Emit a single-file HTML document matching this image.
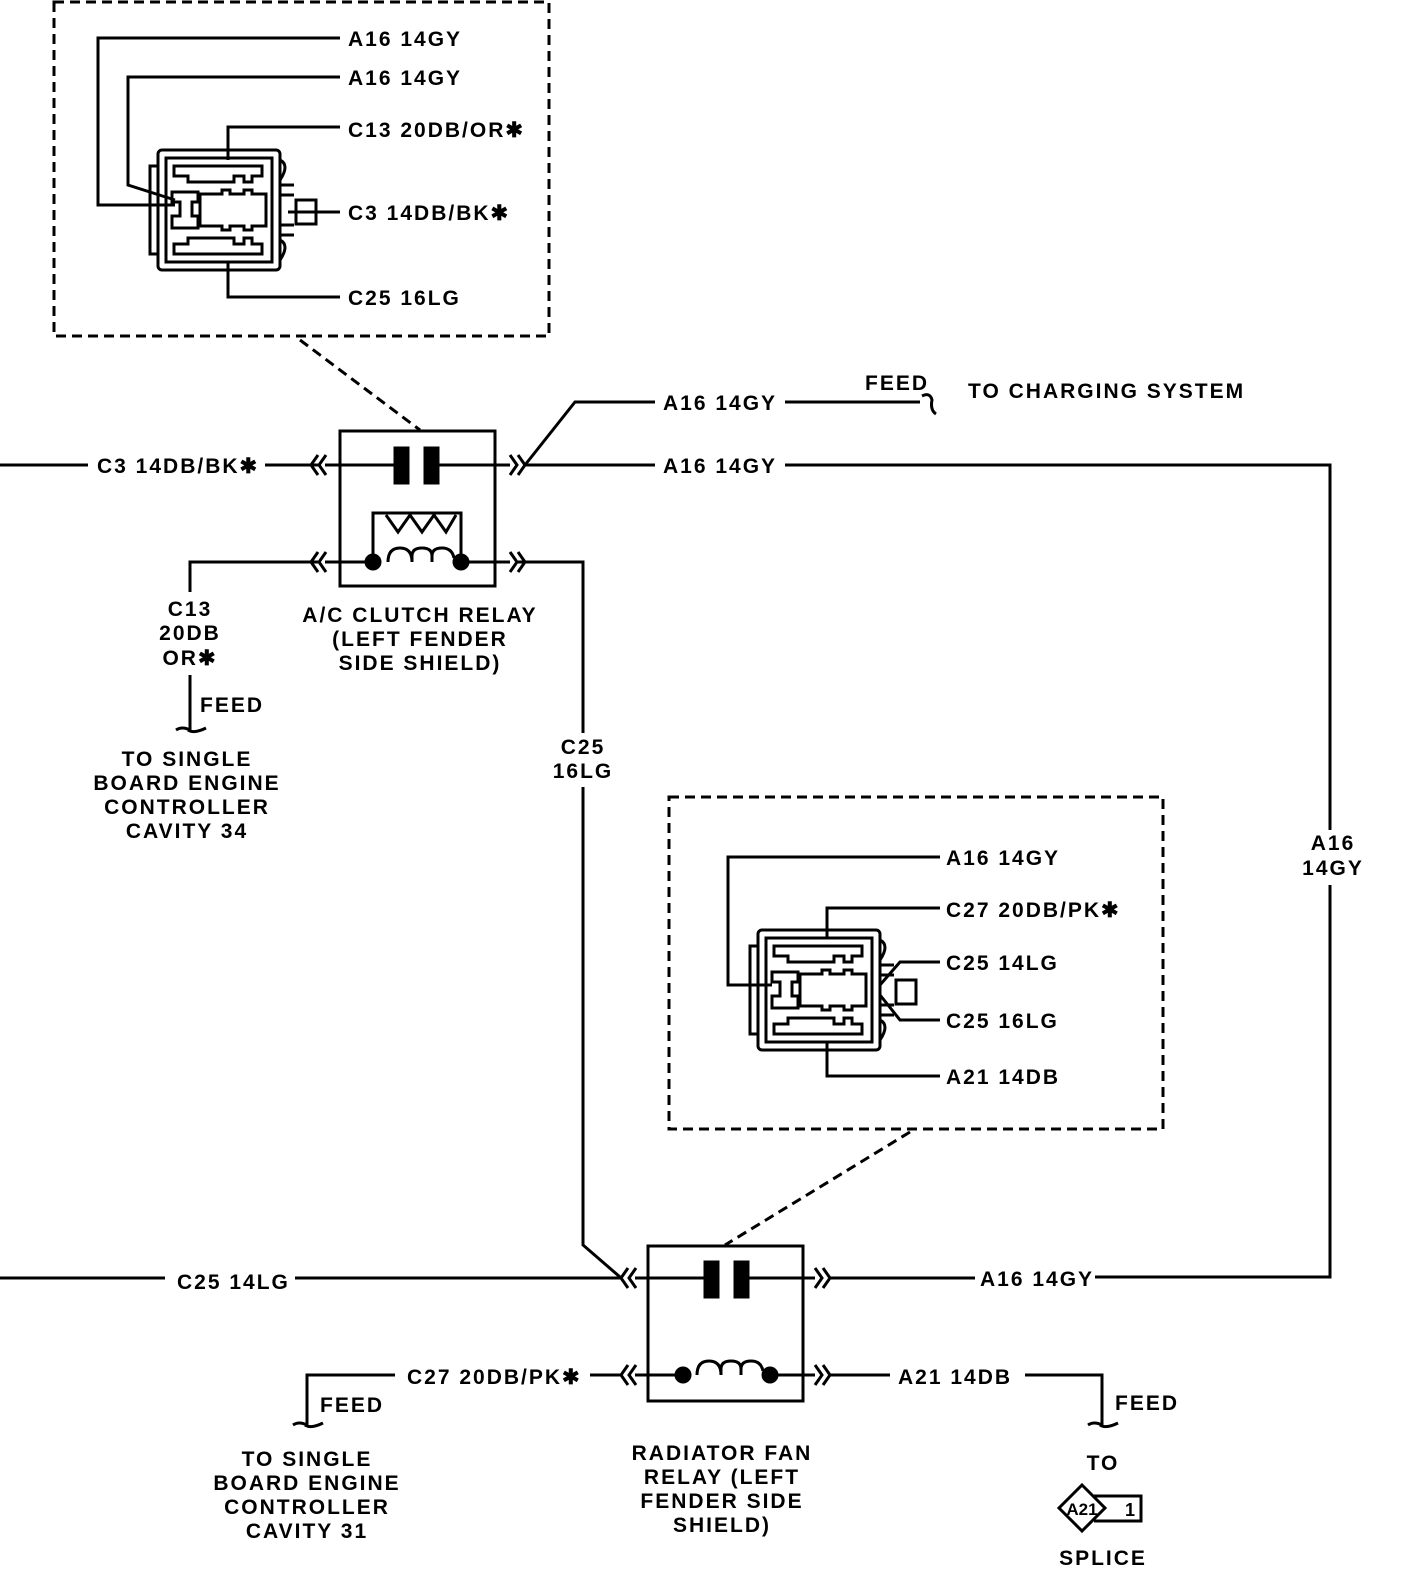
<!DOCTYPE html>
<html><head><style>
html,body{margin:0;padding:0;background:#fff;}
svg{display:block}
text{font-family:"Liberation Sans",sans-serif;font-weight:bold;font-size:21px;letter-spacing:2px;fill:#000}
</style></head><body>
<svg width="1408" height="1592" viewBox="0 0 1408 1592" xmlns="http://www.w3.org/2000/svg">
<defs>
<g id="conn" fill="none" stroke="#000" stroke-width="3">
  <rect x="0" y="0" width="122" height="120" rx="4"/>
  <rect x="8" y="8" width="106" height="104"/>
  <path d="M0 16 H-8 V104 H0"/>
  <path d="M122 10 q10 5 0 20 M122 90 q10 5 0 20"/>
  <path d="M122 35 h14 M122 45 h14 M122 75 h14 M122 85 h14"/>
  <rect x="138" y="50" width="20" height="24"/>
  <!-- top row -->
  <path d="M16 16 H104 V26 H94 V32 H86 V26 H76 V32 H30 V26 H16 Z"/>
  <!-- middle row -->
  <path d="M14 42 H40 V52 H34 V66 H40 V78 H14 V66 H22 V52 H14 Z"/>
  <path d="M42 44 H64 V40 H72 V44 H86 V40 H94 V44 H108 V76 H94 V80 H86 V76 H72 V80 H64 V76 H42 Z"/>
  <!-- bottom row -->
  <path d="M16 104 H104 V94 H94 V88 H86 V94 H76 V88 H30 V94 H16 Z"/>
</g>
</defs>
<g stroke="#000" stroke-width="3" fill="none">
  <!-- top dashed box -->
  <rect x="54" y="2" width="495" height="334" stroke-dasharray="10,6"/>
  <use href="#conn" x="158" y="150"/>
  <path d="M340 38 H98 V205 H175"/>
  <path d="M340 77 H128 V185 L175 200"/>
  <path d="M340 127 H228 V160"/>
  <path d="M288 212 H340"/>
  <path d="M340 297 H228 V262"/>
  <path d="M300 340 L420 430" stroke-dasharray="10,6"/>

  <!-- relay 1 -->
  <rect x="340" y="431" width="155" height="155"/>
  <rect x="395" y="448" width="13" height="35" fill="#000"/>
  <rect x="425" y="448" width="13" height="35" fill="#000"/>
  <path d="M325 465 H395 M438 465 H510"/>
  <path d="M325 562 H373 M461 562 H510"/>
  <path d="M388 562 q0 -14 12 -14 q12 0 12 14 M412 562 v-6 q0 -8 10 -8 q10 0 10 8 v6 M432 556 q0 -8 10 -8 q10 0 12 10"/>
  <path d="M373 562 V513 H461 V562 M386 515 L398 532 L410 515 L422 532 L434 515 L446 532 L456 515"/>
  <circle cx="373" cy="562" r="7" fill="#000"/>
  <circle cx="461" cy="562" r="7" fill="#000"/>
  <path d="M318 455 l-7 10 l7 10 M326 455 l-7 10 l7 10 M318 552 l-7 10 l7 10 M326 552 l-7 10 l7 10"/>
  <path d="M510 455 l7 10 l-7 10 M518 455 l7 10 l-7 10 M510 552 l7 10 l-7 10 M518 552 l7 10 l-7 10"/>

  <path d="M0 465 H88 M265 465 H318"/>
  <path d="M525 465 L575 402 H655 M785 402 H920"/>
  <path d="M922 396 q8 -4 10 4 q-2 10 4 14"/>
  <path d="M525 465 H655 M785 465 H1330 V830 M1330 885 V1277 H1095"/>
  <path d="M318 562 H190 V592 M190 675 V730 q-8 -4 -14 0 M188 730 q6 4 18 -2"/>
  <path d="M518 562 H583 V733 M583 787 V1245 L620 1277"/>

  <!-- second dashed box -->
  <rect x="669" y="797" width="494" height="332" stroke-dasharray="10,6"/>
  <use href="#conn" x="758" y="930"/>
  <path d="M940 857 H728 V985 H772"/>
  <path d="M940 908 H827 V938"/>
  <path d="M940 962 H900 L880 985"/>
  <path d="M940 1020 H900 L880 995"/>
  <path d="M940 1076 H827 V1042"/>
  <path d="M910 1132 L725 1245" stroke-dasharray="10,6"/>

  <!-- relay 2 -->
  <rect x="648" y="1246" width="155" height="155"/>
  <rect x="705" y="1262" width="13" height="35" fill="#000"/>
  <rect x="735" y="1262" width="13" height="35" fill="#000"/>
  <path d="M635 1278 H705 M748 1278 H815"/>
  <path d="M635 1375 H683 M770 1375 H815"/>
  <path d="M697 1375 q0 -14 12 -14 q12 0 12 14 M721 1375 v-6 q0 -8 10 -8 q10 0 10 8 v6 M741 1369 q0 -8 10 -8 q10 0 12 10"/>
  <circle cx="683" cy="1375" r="7" fill="#000"/>
  <circle cx="770" cy="1375" r="7" fill="#000"/>
  <path d="M628 1268 l-7 10 l7 10 M636 1268 l-7 10 l7 10 M628 1365 l-7 10 l7 10 M636 1365 l-7 10 l7 10"/>
  <path d="M815 1268 l7 10 l-7 10 M823 1268 l7 10 l-7 10 M815 1365 l7 10 l-7 10 M823 1365 l7 10 l-7 10"/>

  <path d="M0 1278 H165 M295 1278 H620"/>
  <path d="M830 1278 H975"/>
  <path d="M590 1375 H620 M395 1375 H307 V1425 q-8 -4 -14 0 M305 1425 q6 4 18 -2"/>
  <path d="M830 1375 H890 M1025 1375 H1102 V1425 q-8 -4 -14 0 M1100 1425 q6 4 18 -2"/>
  <path d="M1082 1485 L1105 1508 L1082 1531 L1059 1508 Z"/>
  <path d="M1094 1496 H1141 V1521 H1094"/>
</g>

<g>
<text x="348" y="46">A16 14GY</text>
<text x="348" y="85">A16 14GY</text>
<text x="348" y="137">C13 20DB/OR✱</text>
<text x="348" y="220">C3 14DB/BK✱</text>
<text x="348" y="305">C25 16LG</text>

<text x="97" y="473">C3 14DB/BK✱</text>
<text x="663" y="410">A16 14GY</text>
<text x="865" y="390">FEED</text>
<text x="968" y="398">TO CHARGING SYSTEM</text>
<text x="663" y="473">A16 14GY</text>
<text x="1333" y="850" text-anchor="middle">A16</text>
<text x="1333" y="875" text-anchor="middle">14GY</text>

<text x="190" y="616" text-anchor="middle">C13</text>
<text x="190" y="640" text-anchor="middle">20DB</text>
<text x="190" y="665" text-anchor="middle">OR✱</text>
<text x="200" y="712">FEED</text>
<text x="187" y="766" text-anchor="middle">TO SINGLE</text>
<text x="187" y="790" text-anchor="middle">BOARD ENGINE</text>
<text x="187" y="814" text-anchor="middle">CONTROLLER</text>
<text x="187" y="838" text-anchor="middle">CAVITY 34</text>

<text x="420" y="622" text-anchor="middle">A/C CLUTCH RELAY</text>
<text x="420" y="646" text-anchor="middle">(LEFT FENDER</text>
<text x="420" y="670" text-anchor="middle">SIDE SHIELD)</text>
<text x="583" y="754" text-anchor="middle">C25</text>
<text x="583" y="778" text-anchor="middle">16LG</text>

<text x="946" y="865">A16 14GY</text>
<text x="946" y="917">C27 20DB/PK✱</text>
<text x="946" y="970">C25 14LG</text>
<text x="946" y="1028">C25 16LG</text>
<text x="946" y="1084">A21 14DB</text>

<text x="177" y="1289">C25 14LG</text>
<text x="980" y="1286">A16 14GY</text>
<text x="407" y="1384">C27 20DB/PK✱</text>
<text x="898" y="1384">A21 14DB</text>
<text x="320" y="1412">FEED</text>
<text x="1115" y="1410">FEED</text>
<text x="307" y="1466" text-anchor="middle">TO SINGLE</text>
<text x="307" y="1490" text-anchor="middle">BOARD ENGINE</text>
<text x="307" y="1514" text-anchor="middle">CONTROLLER</text>
<text x="307" y="1538" text-anchor="middle">CAVITY 31</text>
<text x="722" y="1460" text-anchor="middle">RADIATOR FAN</text>
<text x="722" y="1484" text-anchor="middle">RELAY (LEFT</text>
<text x="722" y="1508" text-anchor="middle">FENDER SIDE</text>
<text x="722" y="1532" text-anchor="middle">SHIELD)</text>
<text x="1103" y="1470" text-anchor="middle">TO</text>
<text x="1082" y="1515" text-anchor="middle" style="font-size:17px;letter-spacing:0">A21</text>
<text x="1125" y="1516" style="font-size:18px">1</text>
<text x="1103" y="1565" text-anchor="middle">SPLICE</text>
</g>
</svg>
</body></html>
